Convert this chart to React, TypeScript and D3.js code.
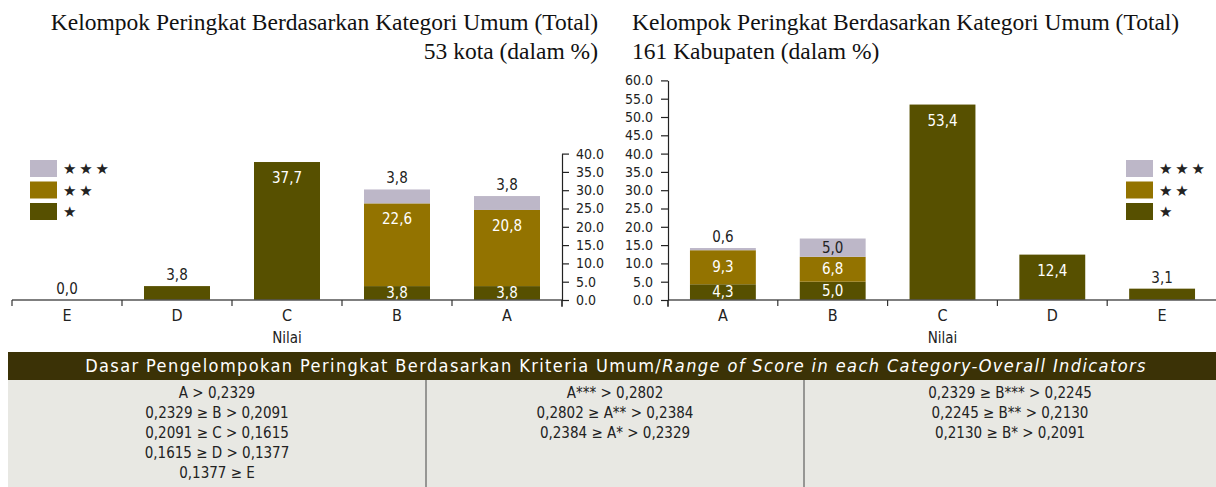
import React, { useEffect, useRef } from "react";
import * as d3 from "d3";

// kota (53) – urutan E..A
const kotaKategori = ["E", "D", "C", "B", "A"];
const kotaBintang1 = [0.0, 3.8, 37.7, 3.8, 3.8];
const kotaBintang2 = [null, null, null, 22.6, 20.8];
const kotaBintang3 = [null, null, null, 3.8, 3.8];

// kabupaten (161) – urutan A..E
const kabKategori = ["A", "B", "C", "D", "E"];
const kabBintang1 = [4.3, 5.0, 53.4, 12.4, 3.1];
const kabBintang2 = [9.3, 6.8, null, null, null];
const kabBintang3 = [0.6, 5.0, null, null, null];

const kotaTicks = [0, 5, 10, 15, 20, 25, 30, 35, 40];
const kabTicks = [0, 5, 10, 15, 20, 25, 30, 35, 40, 45, 50, 55, 60];

const legendLabels = ["★ ★ ★", "★ ★", "★"];

const kolom1 = ["A > 0,2329", "0,2329 ≥ B > 0,2091", "0,2091 ≥ C > 0,1615", "0,1615 ≥ D > 0,1377", "0,1377 ≥ E"];
const kolom2 = ["A*** > 0,2802", "0,2802 ≥ A** > 0,2384", "0,2384 ≥ A* > 0,2329"];
const kolom3 = ["0,2329 ≥ B*** > 0,2245", "0,2245 ≥ B** > 0,2130", "0,2130 ≥ B* > 0,2091"];

const W = 1216;
const H = 487;
const warna = ["#575000", "#937300", "#bdb7c8"];
const condensed = "'Liberation Sans Narrow', 'DejaVu Sans Condensed', 'Roboto Condensed', sans-serif";
const serif = "'Liberation Serif', 'DejaVu Serif', serif";
const koma = (v: number) => d3.format(".1f")(v).replace(".", ",");

function drawChart(svg: any, cfg: any) {
  const { kategori, s1, s2, s3, xRange, yMax, ticks, axisX, axisSide, legendX } = cfg;
  const x = d3.scaleBand().domain(kategori).range(xRange).paddingInner(0.4).paddingOuter(0.2);
  const y = d3.scaleLinear().domain([0, yMax]).range([300, 300 - yMax * 3.66]);

  const rows = kategori.map((k: string, i: number) => ({ k, s1: s1[i] ?? 0, s2: s2[i] ?? 0, s3: s3[i] ?? 0, raw: [s1[i], s2[i], s3[i]] }));
  const stack = d3.stack().keys(["s1", "s2", "s3"])(rows as any);

  const g = svg.append("g");

  // batang
  stack.forEach((layer: any, li: number) => {
    g.selectAll(null)
      .data(layer)
      .join("rect")
      .attr("x", (d: any) => x(d.data.k))
      .attr("width", x.bandwidth())
      .attr("y", (d: any) => y(d[1]))
      .attr("height", (d: any) => y(d[0]) - y(d[1]))
      .attr("fill", warna[li]);
  });

  // label nilai
  stack.forEach((layer: any, li: number) => {
    layer.forEach((d: any) => {
      const v = d.data.raw[li];
      if (v === null || v === undefined) return;
      const top = y(d[1]);
      const h = y(d[0]) - y(d[1]);
      const hasAbove = d.data.raw.slice(li + 1).some((o: any) => o);
      const hasOthers = d.data.raw.some((o: any, j: number) => j !== li && o);
      let ty: number;
      let fill = li === 2 ? "#222" : "#fff";
      if (!hasAbove && h < 16) {
        ty = top - 6;
        fill = "#222";
      } else if (h >= 40) {
        ty = top + 21;
      } else {
        ty = top + h / 2 + 5;
      }
      if (li === 0 && hasOthers) ty = top + h / 2 + 5;
      g.append("text")
        .attr("x", (x(d.data.k) as number) + x.bandwidth() / 2)
        .attr("y", ty)
        .attr("text-anchor", "middle")
        .attr("font-family", condensed)
        .attr("font-size", 15)
        .attr("fill", fill)
        .text(koma(v));
    });
  });

  // sumbu x
  const step = x.step();
  g.append("line")
    .attr("x1", xRange[0]).attr("x2", xRange[1])
    .attr("y1", 300).attr("y2", 300)
    .attr("stroke", "#555").attr("stroke-width", 1.5);
  d3.range(kategori.length + 1).forEach((i) => {
    g.append("line")
      .attr("x1", xRange[0] + i * step).attr("x2", xRange[0] + i * step)
      .attr("y1", 300).attr("y2", 306)
      .attr("stroke", "#333").attr("stroke-width", 1.2);
  });
  g.selectAll(null)
    .data(kategori)
    .join("text")
    .attr("x", (d: string) => (x(d) as number) + x.bandwidth() / 2)
    .attr("y", 321)
    .attr("text-anchor", "middle")
    .attr("font-family", condensed)
    .attr("font-size", 16)
    .attr("fill", "#222")
    .text((d: string) => d);
  g.append("text")
    .attr("x", (xRange[0] + xRange[1]) / 2)
    .attr("y", 343)
    .attr("text-anchor", "middle")
    .attr("font-family", condensed)
    .attr("font-size", 15)
    .attr("fill", "#222")
    .text("Nilai");

  // sumbu y
  const axis = (axisSide === "right" ? d3.axisRight(y) : d3.axisLeft(y))
    .tickValues(ticks)
    .tickFormat(d3.format(".1f") as any)
    .tickSize(7)
    .tickPadding(axisSide === "right" ? 7 : 8)
    .tickSizeOuter(0);
  const ya = g.append("g").attr("transform", `translate(${axisX},0)`).call(axis);
  ya.select(".domain").attr("stroke", "#222").attr("stroke-width", 1.2);
  ya.selectAll(".tick line").attr("stroke", "#222").attr("stroke-width", 1.2);
  ya.selectAll("text").attr("font-family", condensed).attr("font-size", 14).attr("fill", "#222");
  g.append("line")
    .attr("x1", axisX).attr("x2", axisX)
    .attr("y1", 300).attr("y2", 307)
    .attr("stroke", "#222").attr("stroke-width", 1.2);

  // legenda
  const lg = g.append("g").attr("transform", `translate(${legendX},160)`);
  legendLabels.forEach((t, i) => {
    lg.append("rect")
      .attr("x", 0).attr("y", i * 21.5)
      .attr("width", 27).attr("height", 17)
      .attr("fill", warna[2 - i]);
    lg.append("text")
      .attr("x", 33).attr("y", i * 21.5 + 14)
      .attr("font-family", "'DejaVu Sans', sans-serif")
      .attr("font-size", 15)
      .attr("letter-spacing", -1)
      .attr("fill", "#222")
      .text(t);
  });
}

export default function App() {
  const ref = useRef<SVGSVGElement>(null);

  useEffect(() => {
    document.body.style.margin = "0";
    const svg = d3.select(ref.current);
    svg.selectAll("*").remove();

    // judul
    const judul = [
      { x: 598, anchor: "end", lines: ["Kelompok Peringkat Berdasarkan Kategori Umum (Total)", "53 kota (dalam %)"] },
      { x: 632, anchor: "start", lines: ["Kelompok Peringkat Berdasarkan Kategori Umum (Total)", "161 Kabupaten (dalam %)"] },
    ];
    judul.forEach((j) => {
      j.lines.forEach((l, i) => {
        svg.append("text")
          .attr("x", j.x).attr("y", 30 + i * 29)
          .attr("text-anchor", j.anchor)
          .attr("font-family", serif)
          .attr("font-size", 23.5)
          .attr("fill", "#111")
          .text(l);
      });
    });

    drawChart(svg, {
      kategori: kotaKategori, s1: kotaBintang1, s2: kotaBintang2, s3: kotaBintang3,
      xRange: [12, 562], yMax: 40, ticks: kotaTicks, axisX: 562, axisSide: "right", legendX: 30,
    });
    drawChart(svg, {
      kategori: kabKategori, s1: kabBintang1, s2: kabBintang2, s3: kabBintang3,
      xRange: [668, 1217], yMax: 60, ticks: kabTicks, axisX: 668, axisSide: "left", legendX: 1126,
    });

    // tabel
    svg.append("rect").attr("x", 8).attr("y", 352).attr("width", W - 8).attr("height", 28).attr("fill", "#3b3206");
    svg.append("rect").attr("x", 8).attr("y", 380).attr("width", W - 8).attr("height", H - 380).attr("fill", "#e8e8e3");
    const header = svg.append("text")
      .attr("x", 616).attr("y", 372)
      .attr("text-anchor", "middle")
      .attr("font-family", condensed)
      .attr("font-size", 18)
      .attr("letter-spacing", 1.4)
      .attr("fill", "#fff");
    header.append("tspan").text("Dasar Pengelompokan Peringkat Berdasarkan Kriteria Umum/");
    header.append("tspan").attr("font-style", "italic").text("Range of Score in each Category-Overall Indicators");

    [426, 804].forEach((dx) => {
      svg.append("line").attr("x1", dx).attr("x2", dx).attr("y1", 380).attr("y2", H).attr("stroke", "#444").attr("stroke-width", 1);
    });
    const kolom = [
      { cx: 217, rows: kolom1 },
      { cx: 615, rows: kolom2 },
      { cx: 1010, rows: kolom3 },
    ];
    kolom.forEach((k) => {
      k.rows.forEach((r, i) => {
        svg.append("text")
          .attr("x", k.cx).attr("y", 398 + i * 20)
          .attr("text-anchor", "middle")
          .attr("font-family", condensed)
          .attr("font-size", 15)
          .attr("fill", "#222")
          .text(r);
      });
    });
  }, []);

  return <svg ref={ref} width={W} height={H} style={{ display: "block" }} />;
}
